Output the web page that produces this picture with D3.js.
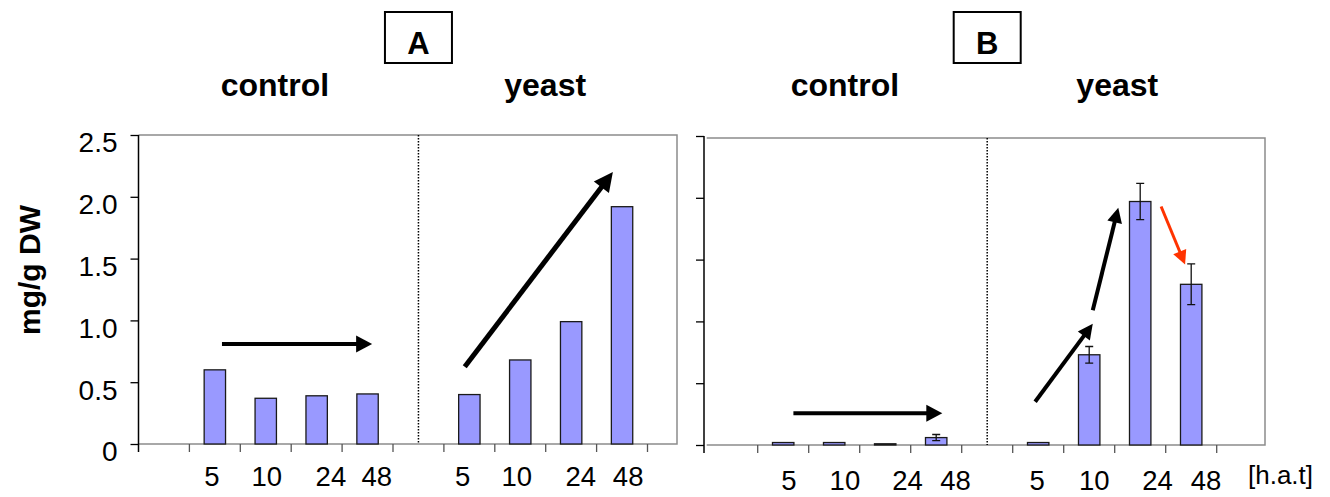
<!DOCTYPE html>
<html>
<head>
<meta charset="utf-8">
<script src="https://cdn.jsdelivr.net/npm/d3@7"></script>
<style>
  body { margin: 0; background: #fff; }
  text { font-family: "Liberation Sans", Arial, sans-serif; fill: #000; }
</style>
</head>
<body>
<div id="chart"></div>
<script>
// two panels (A, B) of bar charts: control vs yeast at 4 time points

const hours = ["5", "10", "24", "48"];
const treatments = ["control", "yeast"];
const yTicks = [0, 0.5, 1.0, 1.5, 2.0, 2.5];
const yTickLabels = ["0", "0.5", "1.0", "1.5", "2.0", "2.5"];
const yTitle = "mg/g DW";
const unitLabel = "[h.a.t]";

// panel A - no error bars
const controlA = [0.60, 0.37, 0.39, 0.405];
const yeastA = [0.40, 0.68, 0.99, 1.92];

// panel B - with error bars
const controlB = [0.02, 0.02, 0.01, 0.06];
const controlBErr = [0.004, 0.004, 0.002, 0.025];
const yeastB = [0.02, 0.73, 1.97, 1.30];
const yeastBErr = [0.002, 0.067, 0.146, 0.165];

var width = 1330;
var height = 497;

const svg = d3.select("#chart")
    .append("svg")
    .attr("width", width)
    .attr("height", height)
    .style("display", "block");

svg.append("rect")
    .attr("width", width)
    .attr("height", height)
    .attr("fill", "#fff");

// layout of each panel (slot = one category band on x)
const panels = [
    {
        name: "A", control: controlA, yeast: yeastA, controlErr: null, yeastErr: null,
        left: 138.5, right: 677, top: 135, yTop: 135, bottom: 444, slot: 50.9, axisX: 138.5,
        labelBase: 486, yLabels: true,
        labelSlots: [[1.44, 2.52, 3.78, 4.68], [6.37, 7.43, 8.69, 9.62]],
        titleSlots: [2.68, 7.99],
        arrows: [
            {from: [1.64, 0.81], to: [4.59, 0.81], color: "#000", w: 4, hl: 16, hw: 17},
            {from: [6.41, 0.625], to: [9.32, 2.20], color: "#000", w: 5, hl: 19, hw: 19}
        ]
    },
    {
        name: "B", control: controlB, yeast: yeastB, controlErr: controlBErr, yeastErr: yeastBErr,
        left: 706.7, right: 1265, top: 138, yTop: 136, bottom: 445, slot: 51, axisX: 704,
        labelBase: 490, yLabels: false,
        labelSlots: [[1.61, 2.71, 3.94, 4.88], [6.48, 7.60, 8.84, 9.79]],
        titleSlots: [2.71, 8.05],
        arrows: [
            {from: [1.70, 0.257], to: [4.62, 0.257], color: "#000", w: 4, hl: 16, hw: 17},
            {from: [6.44, 0.35], to: [7.57, 0.98], color: "#000", w: 4, hl: 15, hw: 15},
            {from: [7.57, 1.09], to: [8.07, 1.92], color: "#000", w: 4, hl: 15, hw: 15},
            {from: [8.91, 1.93], to: [9.38, 1.46], color: "#ff3300", w: 3, hl: 14, hw: 14}
        ]
    }
];

function drawArrow(g, x1, y1, x2, y2, a) {
    let dx = x2 - x1, dy = y2 - y1;
    let len = Math.sqrt(dx * dx + dy * dy);
    let ux = dx / len, uy = dy / len;
    let bx = x2 - ux * a.hl, by = y2 - uy * a.hl;
    g.append("line")
        .attr("x1", x1).attr("y1", y1)
        .attr("x2", bx + ux * 1).attr("y2", by + uy * 1)
        .attr("stroke", a.color)
        .attr("stroke-width", a.w);
    g.append("path")
        .attr("d", "M" + x2 + "," + y2 +
            "L" + (bx - uy * a.hw / 2) + "," + (by + ux * a.hw / 2) +
            "L" + (bx + uy * a.hw / 2) + "," + (by - ux * a.hw / 2) + "Z")
        .attr("fill", a.color);
}

panels.forEach(function(p) {
    const g = svg.append("g");

    const x = d3.scaleLinear()
        .domain([0, 1])
        .range([p.left, p.left + p.slot]);
    const y = d3.scaleLinear()
        .domain([0, 2.5])
        .range([p.bottom, p.yTop]);

    // frame (grey top + right + bottom)
    g.append("path")
        .attr("d", "M" + p.left + "," + p.top + "H" + p.right + "V" + p.bottom + "H" + p.left)
        .attr("fill", "none")
        .attr("stroke", "#8c8c8c")
        .attr("stroke-width", 1.5);

    // x category ticks
    g.selectAll(".xtick")
        .data(d3.range(1, 11))
        .enter()
        .append("line")
            .attr("x1", d => x(d)).attr("x2", d => x(d))
            .attr("y1", p.bottom).attr("y2", p.bottom + 8)
            .attr("stroke", "#555")
            .attr("stroke-width", 1.3);

    // y axis
    const yAxis = d3.axisLeft(y)
        .tickValues(yTicks)
        .tickSize(8)
        .tickSizeOuter(0)
        .tickFormat((d, i) => p.yLabels ? yTickLabels[i] : "");
    const ya = g.append("g")
        .attr("transform", "translate(" + p.axisX + ",0)")
        .call(yAxis);
    ya.select(".domain").remove();
    ya.selectAll(".tick line").attr("stroke", "#000").attr("stroke-width", 1.3);
    ya.selectAll(".tick text")
        .attr("x", -21)
        .attr("dy", "0.6em")
        .style("font-size", "28px")
        .style("font-family", "'Liberation Sans', Arial, sans-serif");
    g.append("line")
        .attr("x1", p.axisX).attr("x2", p.axisX)
        .attr("y1", y(2.5)).attr("y2", p.bottom + 8)
        .attr("stroke", "#000")
        .attr("stroke-width", 1.5);

    // dotted divider between control and yeast
    g.append("line")
        .attr("x1", x(5.5)).attr("x2", x(5.5))
        .attr("y1", p.top).attr("y2", p.bottom)
        .attr("stroke", "#000")
        .attr("stroke-width", 1.5)
        .attr("stroke-dasharray", "1.5,1.5");

    // bars
    const barW = p.slot * 0.42;
    [p.control, p.yeast].forEach(function(vals, t) {
        const offset = t == 0 ? 1.5 : 6.5;
        const errs = t == 0 ? p.controlErr : p.yeastErr;
        g.selectAll(".bar" + t)
            .data(vals)
            .enter()
            .append("rect")
                .attr("x", (d, i) => x(offset + i) - barW / 2)
                .attr("y", d => y(d))
                .attr("width", barW)
                .attr("height", d => y(0) - y(d))
                .attr("fill", "#9999ff")
                .attr("stroke", "#1a1a1a")
                .attr("stroke-width", 1.3);

        if (errs) {
            vals.forEach(function(v, i) {
                let cx = x(offset + i);
                let e = errs[i];
                if (y(v - e) - y(v + e) < 2) return;
                g.append("path")
                    .attr("d", "M" + cx + "," + y(v + e) + "V" + y(v - e) +
                        "M" + (cx - 4) + "," + y(v + e) + "H" + (cx + 4) +
                        "M" + (cx - 4) + "," + y(v - e) + "H" + (cx + 4))
                    .attr("stroke", "#111")
                    .attr("stroke-width", 1.3)
                    .attr("fill", "none");
            });
        }

        // hour labels
        g.selectAll(".lab" + t)
            .data(hours)
            .enter()
            .append("text")
                .attr("x", (d, i) => x(p.labelSlots[t][i]))
                .attr("y", p.labelBase)
                .attr("text-anchor", "middle")
                .style("font-size", "27.5px")
                .text(d => d);

        // treatment title
        g.append("text")
            .attr("x", x(p.titleSlots[t]))
            .attr("y", 96)
            .attr("text-anchor", "middle")
            .style("font-size", "32px")
            .style("font-weight", "bold")
            .text(treatments[t]);
    });

    // arrows
    p.arrows.forEach(function(a) {
        drawArrow(g, x(a.from[0]), y(a.from[1]), x(a.to[0]), y(a.to[1]), a);
    });

    // panel letter box
    g.append("rect")
        .attr("x", x(5.5) - 33.5)
        .attr("y", 12)
        .attr("width", 67)
        .attr("height", 51)
        .attr("fill", "#fff")
        .attr("stroke", "#000")
        .attr("stroke-width", 2);
    g.append("text")
        .attr("x", x(5.5))
        .attr("y", 54)
        .attr("text-anchor", "middle")
        .style("font-size", "31px")
        .style("font-weight", "bold")
        .text(p.name);
});

// y axis title
svg.append("text")
    .attr("transform", "translate(40,270) rotate(-90)")
    .attr("text-anchor", "middle")
    .style("font-size", "30px")
    .style("font-weight", "bold")
    .text(yTitle);

// unit label at bottom right
svg.append("text")
    .attr("x", 1248)
    .attr("y", 484)
    .style("font-size", "26px")
    .text(unitLabel);
</script>
</body>
</html>
